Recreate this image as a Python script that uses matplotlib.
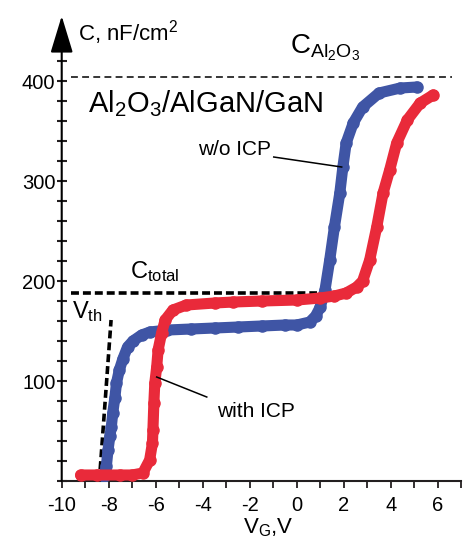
import matplotlib
matplotlib.use('Agg')
import matplotlib.pyplot as plt
from matplotlib.ticker import MultipleLocator

plt.rcParams['font.family'] = ['Liberation Sans', 'DejaVu Sans']
plt.rcParams['mathtext.fontset'] = 'custom'
plt.rcParams['mathtext.rm'] = 'Liberation Sans'
plt.rcParams['mathtext.it'] = 'Liberation Sans:italic'
plt.rcParams['axes.unicode_minus'] = False

# w/o ICP (blue)
blue_v = [-8.2, -8.1, -8.03, -7.95, -7.89, -7.83, -7.74, -7.67, -7.55, -7.4, -7.2, -6.97, -6.6, -6.25,
          -5.5, -4.5, -3.5, -2.5, -1.5, -0.5, 0.0, 0.55, 0.8, 1.0, 1.2, 1.4, 1.6, 1.83, 1.96, 2.1,
          2.4, 2.8, 3.5, 4.4, 5.1]
blue_c = [5, 15, 31, 45, 54, 68, 83, 98, 111, 122, 134, 140, 146, 149,
          151, 152, 153, 154, 155, 156, 156, 159, 165, 174, 191, 221, 254, 288, 314, 338,
          358, 374, 388, 393, 394]

# with ICP (red)
red_v = [-9.2, -8.5, -7.5, -7.0, -6.55, -6.26, -6.14, -6.12, -6.08, -6.04, -5.96, -5.9, -5.75, -5.6,
         -5.27, -4.7, -3.5, -2.7, -1.5, 0.0, 1.0, 1.6, 2.1, 2.55, 2.8, 3.1, 3.4, 3.67, 3.95, 4.25,
         4.7, 5.25, 5.8]
red_c = [6, 6, 6, 6, 8, 21, 38, 51, 78, 98, 114, 131, 148, 161,
         171, 176, 178, 179, 180, 181, 183, 185, 188, 194, 200, 221, 254, 288, 311, 338,
         361, 378, 386]

c_ox = 404
c_total = 188
vth_v = [-8.4, -7.9]
vth_c = [0, 161]

blue = '#3f55a5'
red = '#e92a3a'
axcol = '#231f20'

fig = plt.figure(figsize=(4.64, 5.39), dpi=100)
ax = fig.add_axes([0.133, 0.1076, 0.8613, 0.8163])
ax.set_xlim(-10, 7)
ax.set_ylim(0, 440)

ax.plot(blue_v, blue_c, '-o', color=blue, lw=8, ms=8, solid_capstyle='round',
        solid_joinstyle='round', zorder=3)
ax.plot(red_v, red_c, '-o', color=red, lw=8, ms=8, solid_capstyle='round',
        solid_joinstyle='round', zorder=4)

# reference lines
ax.plot([-9.6, 6.6], [c_ox, c_ox], color='black', lw=1.1, linestyle=(0, (4.5, 2.8)), zorder=2,
        clip_on=False)
ax.plot([-9.6, 0.85], [c_total, c_total], color='black', lw=2.6, linestyle=(0, (2.2, 1.1)), zorder=2)
ax.plot(vth_v, vth_c, color='black', lw=2.6, linestyle=(0, (2.2, 1.1)), zorder=2)

# axes
for s in ['top', 'right', 'left']:
    ax.spines[s].set_visible(False)
ax.spines['bottom'].set_color(axcol)
ax.spines['bottom'].set_linewidth(1.5)
ax.annotate('', xy=(-10, 465), xytext=(-10, 0), annotation_clip=False,
            arrowprops=dict(arrowstyle='-|>,head_length=1.15,head_width=0.35', color='black',
                            lw=1.5, mutation_scale=20, shrinkA=0, shrinkB=0))

ax.xaxis.set_major_locator(MultipleLocator(2))
ax.xaxis.set_minor_locator(MultipleLocator(1))
ax.yaxis.set_major_locator(MultipleLocator(100))
ax.yaxis.set_minor_locator(MultipleLocator(20))
ax.set_yticks([100, 200, 300, 400])
ax.set_yticklabels(['100', '200', '300', '400'])
ax.tick_params(axis='x', which='both', direction='out', length=5, width=1.3, colors=axcol,
               labelsize=14.5, labelcolor='black', pad=6)
ax.tick_params(axis='y', which='both', direction='inout', length=7, width=1.5, colors=axcol,
               labelsize=14.5, labelcolor='black', pad=1)

# labels
ax.text(-9.32, 441, r'C, nF/cm$^\mathregular{2}$', fontsize=16, va='baseline')
ax.text(-1.2, -47, r'V$_\mathregular{G}$,V', fontsize=16, ha='center', va='center', clip_on=False)
ax.text(-8.9, 369, r'Al$_\mathregular{2}$O$_\mathregular{3}$/AlGaN/GaN', fontsize=21, va='baseline')
ax.text(-0.3, 428, r'C$_\mathregular{Al_2O_3}$', fontsize=20, va='baseline')
ax.text(-7.1, 203, r'C$_\mathregular{total}$', fontsize=17, va='baseline')
ax.text(-9.57, 163, r'V$_\mathregular{th}$', fontsize=17, va='baseline')

ax.text(-4.2, 326, 'w/o ICP', fontsize=15, va='baseline')
ax.plot([-0.98, 1.91], [324, 314], color='black', lw=1.1, zorder=5)
ax.text(-3.4, 64, 'with ICP', fontsize=15, va='baseline')
ax.plot([-5.96, -3.83], [104, 84], color='black', lw=1.1, zorder=5)

fig.savefig('out.png', dpi=100)
